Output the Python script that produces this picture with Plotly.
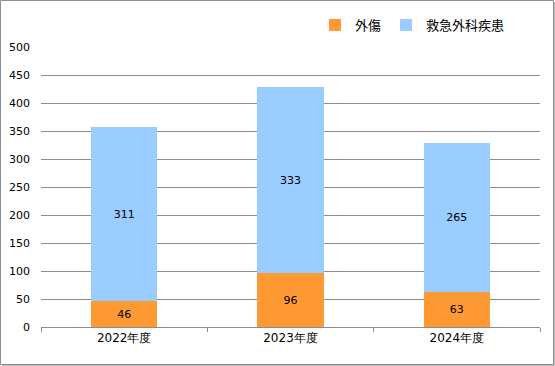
import plotly.graph_objects as go

categories = ["2022年度", "2023年度", "2024年度"]
trauma = [46, 96, 63]
surgical = [311, 333, 265]
series_names = ["外傷", "救急外科疾患"]
colors = ["#FF9933", "#99CCFF"]

W, H = 555, 366
ML, MR, MT, MB = 41, 15, 47, 39
PW = W - ML - MR
PH = H - MT - MB

fig = go.Figure()
for name, vals, col in zip(series_names, [trauma, surgical], colors):
    fig.add_trace(go.Bar(
        x=categories, y=vals, name=name,
        marker=dict(color=col, line=dict(width=0)),
        text=[str(v) for v in vals],
        textposition="inside", insidetextanchor="middle", textangle=0,
        textfont=dict(family="DejaVu Sans", size=11, color="#000000"),
        cliponaxis=False,
    ))

def px_x(p):
    return (p - ML) / PW

def px_y(p):
    return (H - MB - p) / PH

fig.update_layout(
    width=W, height=H,
    margin=dict(l=ML, r=MR, t=MT, b=MB, pad=0, autoexpand=False),
    barmode="stack", bargap=0.6,
    paper_bgcolor="white", plot_bgcolor="white",
    font=dict(family="DejaVu Sans", size=11, color="#000000"),
    showlegend=True,
    legend=dict(
        orientation="h", x=px_x(315), xanchor="left", y=px_y(25), yanchor="middle",
        traceorder="normal",
        font=dict(family="Noto Sans CJK JP", size=13, color="#000000"),
        itemwidth=30, bgcolor="rgba(0,0,0,0)",
    ),
    xaxis=dict(
        automargin=False,
        showline=True, linecolor="#8c8c8c", linewidth=1,
        ticks="outside", tickson="boundaries", ticklen=4, tickcolor="#8c8c8c",
        tickfont=dict(family="DejaVu Sans", size=12),
        showgrid=False,
    ),
    yaxis=dict(
        automargin=False,
        range=[0, 500], dtick=50, showline=False,
        showgrid=True, gridcolor="#8c8c8c", gridwidth=1,
        zeroline=False, ticks="", ticklabelstandoff=10,
        tickfont=dict(family="DejaVu Sans", size=11),
    ),
    shapes=[
        dict(type="rect", xref="paper", yref="paper",
             x0=px_x(0.5), x1=px_x(553.5), y0=px_y(364.5), y1=px_y(0.5),
             line=dict(color="#8c8c8c", width=1), layer="above"),
        dict(type="line", xref="paper", yref="paper",
             x0=px_x(554.5), x1=px_x(554.5), y0=px_y(365.5), y1=px_y(2),
             line=dict(color="#bbbbbb", width=1)),
        dict(type="line", xref="paper", yref="paper",
             x0=px_x(2), x1=px_x(554.5), y0=px_y(365.5), y1=px_y(365.5),
             line=dict(color="#bbbbbb", width=1)),
    ],
)

fig.write_html(
    "out.html",
    config={"displayModeBar": False},
    post_script="document.body.style.margin='0';document.body.style.overflow='hidden';",
)
